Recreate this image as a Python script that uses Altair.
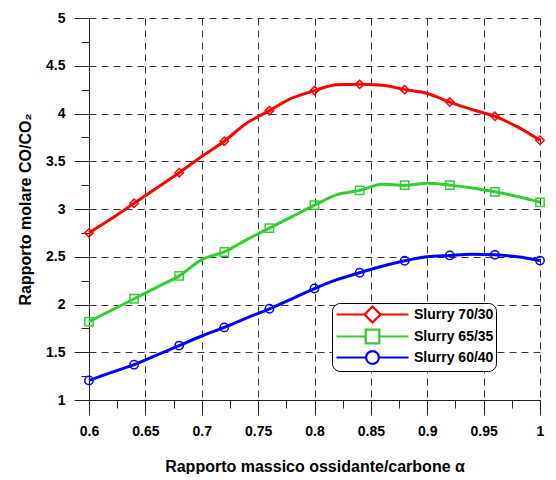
import altair as alt
import pandas as pd

# ---- data ----
alpha = [0.60, 0.62, 0.64, 0.66, 0.68, 0.70, 0.72, 0.74, 0.76, 0.78, 0.80,
         0.82, 0.84, 0.86, 0.88, 0.90, 0.92, 0.94, 0.96, 0.98, 1.00]
slurry_70_30 = [2.75, 2.90, 3.06, 3.22, 3.38, 3.55, 3.71, 3.90, 4.03, 4.16, 4.24,
                4.30, 4.305, 4.295, 4.25, 4.21, 4.12, 4.04, 3.97, 3.86, 3.72]
slurry_65_35 = [1.82, 1.94, 2.06, 2.18, 2.30, 2.47, 2.55, 2.68, 2.80, 2.92, 3.04,
                3.15, 3.195, 3.26, 3.25, 3.27, 3.25, 3.22, 3.18, 3.13, 3.07]
slurry_60_40 = [1.205, 1.29, 1.37, 1.47, 1.57, 1.67, 1.76, 1.86, 1.955, 2.06, 2.167,
                2.26, 2.333, 2.40, 2.458, 2.50, 2.514, 2.525, 2.52, 2.50, 2.46]

series_names = ["Slurry 70/30", "Slurry 65/35", "Slurry 60/40"]
series_colors = ["#ff0000", "#33cc33", "#0000ff"]
# marker styles keyed by series name
marker_shape = {"Slurry 70/30": "diamond", "Slurry 65/35": "square", "Slurry 60/40": "circle"}

x_ticks = [0.6, 0.625, 0.65, 0.675, 0.7, 0.725, 0.75, 0.775, 0.8, 0.825, 0.85,
           0.875, 0.9, 0.925, 0.95, 0.975, 1.0]
y_ticks = [1, 1.25, 1.5, 1.75, 2, 2.25, 2.5, 2.75, 3, 3.25, 3.5, 3.75, 4,
           4.25, 4.5, 4.75, 5]

rows = []
for name, vals in zip(series_names, [slurry_70_30, slurry_65_35, slurry_60_40]):
    for i, (a, v) in enumerate(zip(alpha, vals)):
        rows.append({"alpha": a, "ratio": v, "serie": name, "mk": name,
                     "marker": i % 2 == 0})
df = pd.DataFrame(rows)
mk_sorted = sorted(series_names)

FONT = "Liberation Sans"

# legend symbols: line segments + hollow marker outline (stroked paths)
leg_diamond = "M-4.5,0H-1 M1,0H4.5 M0,-1L1,0L0,1L-1,0Z"
leg_square = "M-4.5,0H-0.85 M0.85,0H4.5 M-0.85,-0.85H0.85V0.85H-0.85Z"
leg_circle = ("M-4.5,0H-0.8 M0.8,0H4.5 "
              "M-0.8,0A0.8,0.8 0 1,1 0.8,0A0.8,0.8 0 1,1 -0.8,0Z")

shape_expr = (f"datum.value === '{series_names[0]}' ? '{leg_diamond}' : "
              f"datum.value === '{series_names[1]}' ? '{leg_square}' : '{leg_circle}'")

legend = alt.Legend(
    title=None, orient="none", legendX=243, legendY=285,
    labelFont=FONT, labelFontSize=14, labelFontWeight="bold", labelColor="black",
    symbolSize=256, symbolOffset=29, labelOffset=32, rowPadding=-3.5, padding=2,
    strokeColor="black", fillColor="white", cornerRadius=8,
    symbolType={"expr": shape_expr},
    symbolFillColor="transparent",
    symbolStrokeWidth=2.2, symbolOpacity=1,
)

x_major = "abs(datum.value*20 - round(datum.value*20)) < 0.001"
y_major = "abs(datum.value*2 - round(datum.value*2)) < 0.001"

x_axis = alt.Axis(
    values=x_ticks, title="Rapporto massico ossidante/carbone α",
    labelExpr=f"{x_major} ? format(datum.value, '.2~f') : ''",
    labelFont=FONT, labelFontSize=14, labelFontWeight="bold", labelColor="black",
    titleFont=FONT, titleFontSize=16, titleFontWeight="bold", titleColor="black",
    tickSize={"condition": {"test": x_major, "value": 15}, "value": 8},
    tickColor="#222", domainColor="#222", tickWidth=1, domainWidth=1,
    gridOpacity={"condition": {"test": x_major, "value": 1}, "value": 0},
    grid=True, gridColor="#333", gridDash=[7, 5], gridWidth=1,
    labelPadding=9, titlePadding=20, labelFlush=False, labelOverlap=False,
)
y_axis = alt.Axis(
    values=y_ticks, title="Rapporto molare CO/CO₂",
    labelExpr=f"{y_major} ? format(datum.value, '.1~f') : ''",
    labelFont=FONT, labelFontSize=14, labelFontWeight="bold", labelColor="black",
    titleFont=FONT, titleFontSize=16, titleFontWeight="bold", titleColor="black",
    tickSize={"condition": {"test": y_major, "value": 15}, "value": 8},
    tickColor="#222", domainColor="#222", tickWidth=1, domainWidth=1,
    gridOpacity={"condition": {"test": y_major, "value": 1}, "value": 0},
    grid=True, gridColor="#333", gridDash=[7, 5], gridWidth=1,
    labelPadding=9, titlePadding=12, labelFlush=False, labelOverlap=False,
)

xs = alt.Scale(domain=[0.6, 1.0], nice=False, zero=False)
ys = alt.Scale(domain=[1, 5], nice=False, zero=False)
cs = alt.Scale(domain=series_names, range=series_colors)

base = alt.Chart(df)

lines = base.mark_line(strokeWidth=3, interpolate="monotone").encode(
    x=alt.X("alpha:Q", scale=xs, axis=x_axis),
    y=alt.Y("ratio:Q", scale=ys, axis=y_axis),
    color=alt.Color("serie:N", scale=cs, legend=legend),
    detail="serie:N",
)

points = base.transform_filter("datum.marker").mark_point(
    filled=False, strokeWidth=1.5, opacity=1, size=70
).encode(
    x=alt.X("alpha:Q", scale=xs, axis=x_axis),
    y=alt.Y("ratio:Q", scale=ys, axis=y_axis),
    color=alt.Color("serie:N", scale=cs, legend=legend),
    shape=alt.Shape("mk:N", scale=alt.Scale(range=[marker_shape[n] for n in mk_sorted]), legend=None),
)

chart = alt.layer(lines, points).properties(
    width=540, height=382,
    autosize=alt.AutoSizeParams(type="fit-x", contains="padding"),
    padding={"left": 9, "top": 3, "right": 0, "bottom": 0},
    background="white",
).configure_view(stroke=None)

chart.save("out.html", embed_options={"renderer": "svg", "actions": False})
